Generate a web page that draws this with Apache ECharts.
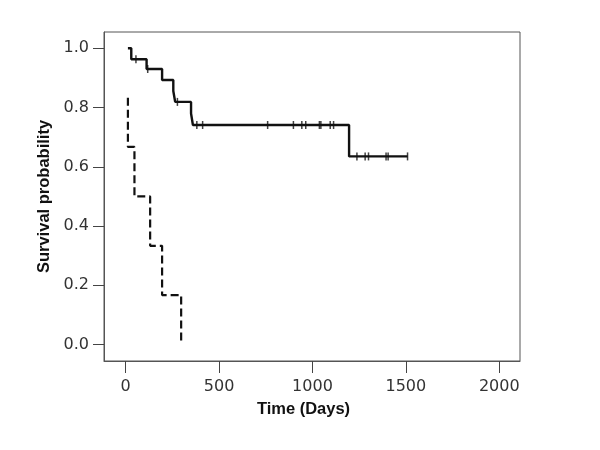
<!DOCTYPE html>
<html>
<head>
<meta charset="utf-8">
<script src="https://cdn.jsdelivr.net/npm/echarts@6/dist/echarts.min.js"></script>
<style>html,body{margin:0;padding:0;background:#fff;}#c{width:600px;height:450px;}</style>
</head>
<body>
<div id="c"></div>
<script>
// Group 1 (solid): step times and survival after each step
const solidTimes = [12, 30, 112, 195, 255, 265, 350, 360, 1196, 1509];
const solidSurv  = [1.0, 0.963, 0.930, 0.893, 0.856, 0.819, 0.780, 0.741, 0.635, 0.635];
// Group 1 censored observations
const solidCensorTimes = [55, 118, 277, 381, 412, 760, 898, 943, 964, 1037, 1045, 1095, 1113, 1238, 1282, 1300, 1394, 1405, 1509];
const solidCensorSurv  = [0.963, 0.930, 0.819, 0.741, 0.741, 0.741, 0.741, 0.741, 0.741, 0.741, 0.741, 0.741, 0.741, 0.635, 0.635, 0.635, 0.635, 0.635, 0.635];
// Group 2 (dashed)
const dashTimes = [12, 12, 47, 131, 195, 297];
const dashSurv  = [0.833, 0.667, 0.5, 0.333, 0.167, 0.0];
// Axis ticks
const xTicks = [0, 500, 1000, 1500, 2000];
const yTicks = [0.0, 0.2, 0.4, 0.6, 0.8, 1.0];

const zip = (a, b) => a.map((v, i) => [v, b[i]]);
const chart = echarts.init(document.getElementById('c'));
const tickColor = '#444';
chart.setOption({
  animation: false,
  backgroundColor: '#fff',
  grid: { left: 104, right: 80, top: 32, bottom: 89, show: true, borderColor: '#555', borderWidth: 1, backgroundColor: 'transparent' },
  xAxis: {
    type: 'value', min: -116, max: 2111,
    splitLine: { show: false },
    axisLine: { show: true, onZero: false, lineStyle: { color: '#555', width: 1 } },
    axisTick: { show: true, length: 12, lineStyle: { color: tickColor }, customValues: xTicks },
    axisLabel: { customValues: xTicks, margin: 18, fontFamily: 'DejaVu Sans', fontSize: 16, color: '#333', formatter: v => String(v) },
    name: 'Time (Days)', nameLocation: 'middle', nameGap: 40,
    nameTextStyle: { fontFamily: 'Liberation Sans', fontWeight: 'bold', fontSize: 16.5, color: '#111', padding: [0, 17, 0, 0] }
  },
  yAxis: {
    type: 'value', min: -0.0557, max: 1.055,
    splitLine: { show: false },
    axisLine: { show: true, onZero: false, lineStyle: { color: '#555', width: 1 } },
    axisTick: { show: true, length: 11, lineStyle: { color: tickColor }, customValues: yTicks },
    axisLabel: { customValues: yTicks, margin: 15, fontFamily: 'DejaVu Sans', fontSize: 16, color: '#333', formatter: v => v.toFixed(1) },
    name: 'Survival probability', nameLocation: 'middle', nameGap: 47,
    nameTextStyle: { fontFamily: 'Liberation Sans', fontWeight: 'bold', fontSize: 16.5, color: '#111' }
  },
  series: [
    { type: 'line', step: 'end', data: zip(solidTimes, solidSurv), symbol: 'none', clip: false,
      lineStyle: { color: '#111', width: 2.4 } },
    { type: 'line', step: 'end', data: zip(dashTimes, dashSurv), symbol: 'none', clip: false,
      lineStyle: { color: '#111', width: 2.2, type: [8, 4] } },
    { type: 'scatter', data: zip(solidCensorTimes, solidCensorSurv), symbol: 'rect', symbolSize: [1.5, 8],
      itemStyle: { color: '#111' }, clip: false }
  ]
});
</script>
</body>
</html>
